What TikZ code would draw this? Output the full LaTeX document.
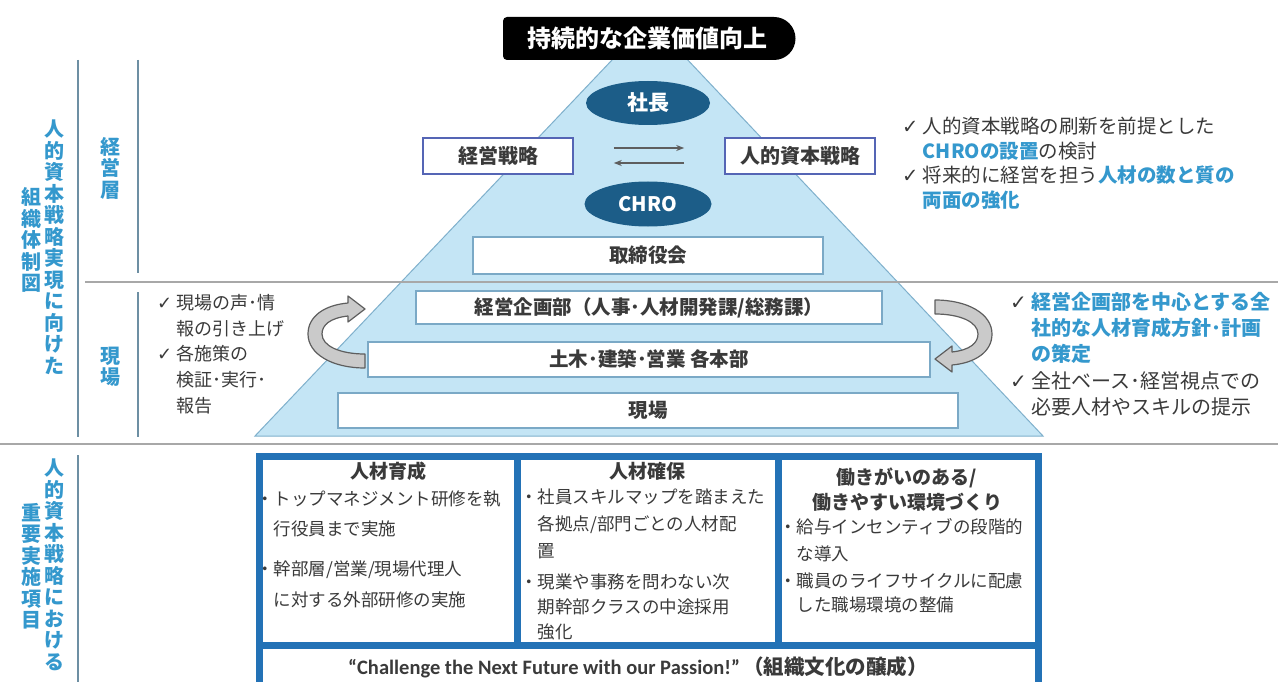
\documentclass[tikz,border=0pt]{standalone}
\usepackage{fontspec}
\setmainfont{Noto Sans CJK JP}
\newfontfamily\sym{DejaVu Sans}
\newfontfamily\eng{Carlito}
\usetikzlibrary{arrows.meta,shapes.geometric,calc}
\definecolor{lb}{HTML}{3498CD}
\definecolor{dk}{HTML}{3A3A3A}
\definecolor{ell}{HTML}{1C5D88}
\definecolor{pyr}{HTML}{C4E5F5}
\definecolor{pyredge}{HTML}{7FB0CC}
\definecolor{bxa}{HTML}{5565B5}
\definecolor{bxb}{HTML}{7BA9C6}
\definecolor{grid}{HTML}{2372B6}
\definecolor{vline}{HTML}{6D8FA3}
\definecolor{sep}{HTML}{A8A8A8}
\definecolor{arrfill}{HTML}{CACACA}
\definecolor{arredge}{HTML}{5E5E5E}
\newcommand\fz[2]{\fontsize{#1}{#2}\selectfont}
\begin{document}
\begin{tikzpicture}[x=1pt,y=-1pt,
  stratbox/.style={draw=bxa,line width=1.6pt,fill=white,minimum width=150pt,minimum height=36pt,inner sep=0pt,font=\fz{20}{24}\bfseries,text=dk},
  layerbox/.style={draw=bxb,line width=1.4pt,fill=white,inner sep=0pt,font=\fz{19.5}{24}\bfseries,text=dk},
  oval/.style={ellipse,fill=ell,inner sep=0pt,text=white,font=\fz{21}{24}\bfseries},
  vlab/.style={align=center,inner sep=0pt,text=lb,font=\fz{20}{21.5}\bfseries},
  blk/.style={anchor=north west,align=left,inner sep=0pt,text=dk},
  head/.style={align=center,inner sep=0pt,text=dk,font=\fz{19}{25}\bfseries},
  thinarr/.style={draw=arredge,line width=1.3pt,-{Stealth[length=8pt,width=6pt]}},
  curvarr/.style={fill=arrfill,draw=arredge,line width=1.2pt,line join=round}
]
\useasboundingbox (0,0) rectangle (1278,682);
\fill[white] (0,0) rectangle (1278,682);

% pyramid
\filldraw[fill=pyr,draw=pyredge,line width=1pt] (650,20) -- (1043,436) -- (255,436) -- cycle;

% separators and left lines
\draw[sep,line width=1.2pt] (85,282) -- (1278,282);
\draw[sep,line width=2pt] (0,444) -- (1278,444);
\draw[vline,line width=1.5pt] (78,60) -- (78,437);
\draw[vline,line width=1.5pt] (138,60) -- (138,273);
\draw[vline,line width=1.5pt] (138,292) -- (138,437);
\draw[vline,line width=1.5pt] (78,455) -- (78,682);

% banner
\fill[black,rounded corners=4pt] (503,17) -- (560,17) [sharp corners] -- (774,17) arc[start angle=-90,end angle=90,radius=21.5] -- (560,60) [rounded corners=4pt] -- (503,60) -- cycle;
\node[inner sep=0pt,text=white,font=\fz{24}{28}\bfseries] (banner) at (647,38.5) {持続的な企業価値向上};

% top structure
\node[oval,minimum width=124pt,minimum height=44pt] (shacho) at (648,103) {社長};
\node[oval,minimum width=127pt,minimum height=45pt,font=\fz{20}{24}\bfseries] (chro) at (648,204) {CHRO};
\node[stratbox] (ks) at (498,156) {経営戦略};
\node[stratbox] (jt) at (800,156) {人的資本戦略};
\draw[thinarr] ($(ks.east)+(40,-8)$) -- ($(jt.west)+(-40,-8)$);
\draw[thinarr] ($(jt.west)+(-40,7)$) -- ($(ks.east)+(40,7)$);

\node[layerbox,minimum width=350pt,minimum height=37pt] (tt) at (648,255.5) {取締役会};
\node[layerbox,minimum width=466pt,minimum height=33pt] (kk) at (649,307.5) {経営企画部（人事･人材開発課/総務課）};
\node[layerbox,minimum width=562pt,minimum height=35pt] (dm) at (649,359.5) {土木･建築･営業 各本部};
\node[layerbox,minimum width=620pt,minimum height=35pt] (gb) at (648,410.5) {現場};

% curved arrows
\path[curvarr] (935,300) .. controls (968,300) and (992,314) .. (992,334)
  .. controls (992,352) and (975,363) .. (952,365) -- (952,372) -- (935,359) -- (952,346) -- (952,352)
  .. controls (970,350) and (978,343) .. (978,334) .. controls (978,322) and (960,314) .. (935,314) -- cycle;
\path[curvarr] (365,368) .. controls (332,368) and (308,354) .. (308,334)
  .. controls (308,316) and (325,305) .. (348,303) -- (348,296) -- (365,309) -- (348,322) -- (348,316)
  .. controls (330,318) and (322,325) .. (322,334) .. controls (322,346) and (340,354) .. (365,354) -- cycle;

% vertical labels
\node[vlab] (v1) at (55,247) {人\\的\\資\\本\\戦\\略\\実\\現\\に\\向\\け\\た};
\node[vlab] (v2) at (31,240) {組\\織\\体\\制\\図};
\node[vlab] (v3) at (110,168) {経\\営\\層};
\node[vlab] (v4) at (110,367) {現\\場};
\node[vlab] (v5) at (55,565) {人\\的\\資\\本\\戦\\略\\に\\お\\け\\る};
\node[vlab] (v6) at (31,566) {重\\要\\実\\施\\項\\目};

% side notes
\node[blk,font=\fz{18}{25.8}] (leftnote) at (157,294) {%
{\sym ✓} 現場の声･情\\
\hphantom{{\sym ✓} }報の引き上げ\\
{\sym ✓} 各施策の\\
\hphantom{{\sym ✓} }検証･実行･\\
\hphantom{{\sym ✓} }報告};
\node[blk,font=\fz{19.5}{24.5}] (rightnote1) at (902,117) {%
{\sym ✓} 人的資本戦略の刷新を前提とした\\
\hphantom{{\sym ✓} }\textcolor{lb}{\bfseries CHROの設置}の検討\\
{\sym ✓} 将来的に経営を担う\textcolor{lb}{\bfseries 人材の数と質の}\\
\hphantom{{\sym ✓} }\textcolor{lb}{\bfseries 両面の強化}};
\node[blk,font=\fz{20}{26.2}] (rightnote2) at (1010,292) {%
{\sym ✓} \textcolor{lb}{\bfseries 経営企画部を中心とする全}\\
\hphantom{{\sym ✓} }\textcolor{lb}{\bfseries 社的な人材育成方針･計画}\\
\hphantom{{\sym ✓} }\textcolor{lb}{\bfseries の策定}\\
{\sym ✓} 全社ベース･経営視点での\\
\hphantom{{\sym ✓} }必要人材やスキルの提示};

% bottom grid
\draw[grid,line width=7pt] (259,456) rectangle (1038,700);
\draw[grid,line width=7pt] (517,456) -- (517,645);
\draw[grid,line width=7pt] (778,456) -- (778,645);
\draw[grid,line width=7pt] (259,645) -- (1038,645);

\node[head] (h1) at (388,471) {人材育成};
\node[blk,font=\fz{17.5}{29.5}] (c1a) at (256,491) {・トップマネジメント研修を執\\\hphantom{・}行役員まで実施};
\node[blk,font=\fz{17.5}{31}] (c1b) at (256,561) {・幹部層/営業/現場代理人\\\hphantom{・}に対する外部研修の実施};

\node[head] (h2) at (647,471) {人材確保};
\node[blk,font=\fz{17.5}{27}] (c2a) at (520,489) {・社員スキルマップを踏まえた\\\hphantom{・}各拠点/部門ごとの人材配\\\hphantom{・}置};
\node[blk,font=\fz{17.5}{25}] (c2b) at (520,574) {・現業や事務を問わない次\\\hphantom{・}期幹部クラスの中途採用\\\hphantom{・}強化};

\node[head] (h3) at (907,490) {働きがいのある/\\働きやすい環境づくり};
\node[blk,font=\fz{17.5}{27.5}] (c3a) at (779,518) {・給与インセンティブの段階的\\\hphantom{・}な導入};
\node[blk,font=\fz{17.5}{24}] (c3b) at (779,573) {・職員のライフサイクルに配慮\\\hphantom{・}した職場環境の整備};

\node[inner sep=0pt,text=dk,font=\fz{20.5}{24}\bfseries] (motto) at (638,667) {{\eng\bfseries “Challenge the Next Future with our Passion!”}\,（組織文化の醸成）};
\end{tikzpicture}
\end{document}
